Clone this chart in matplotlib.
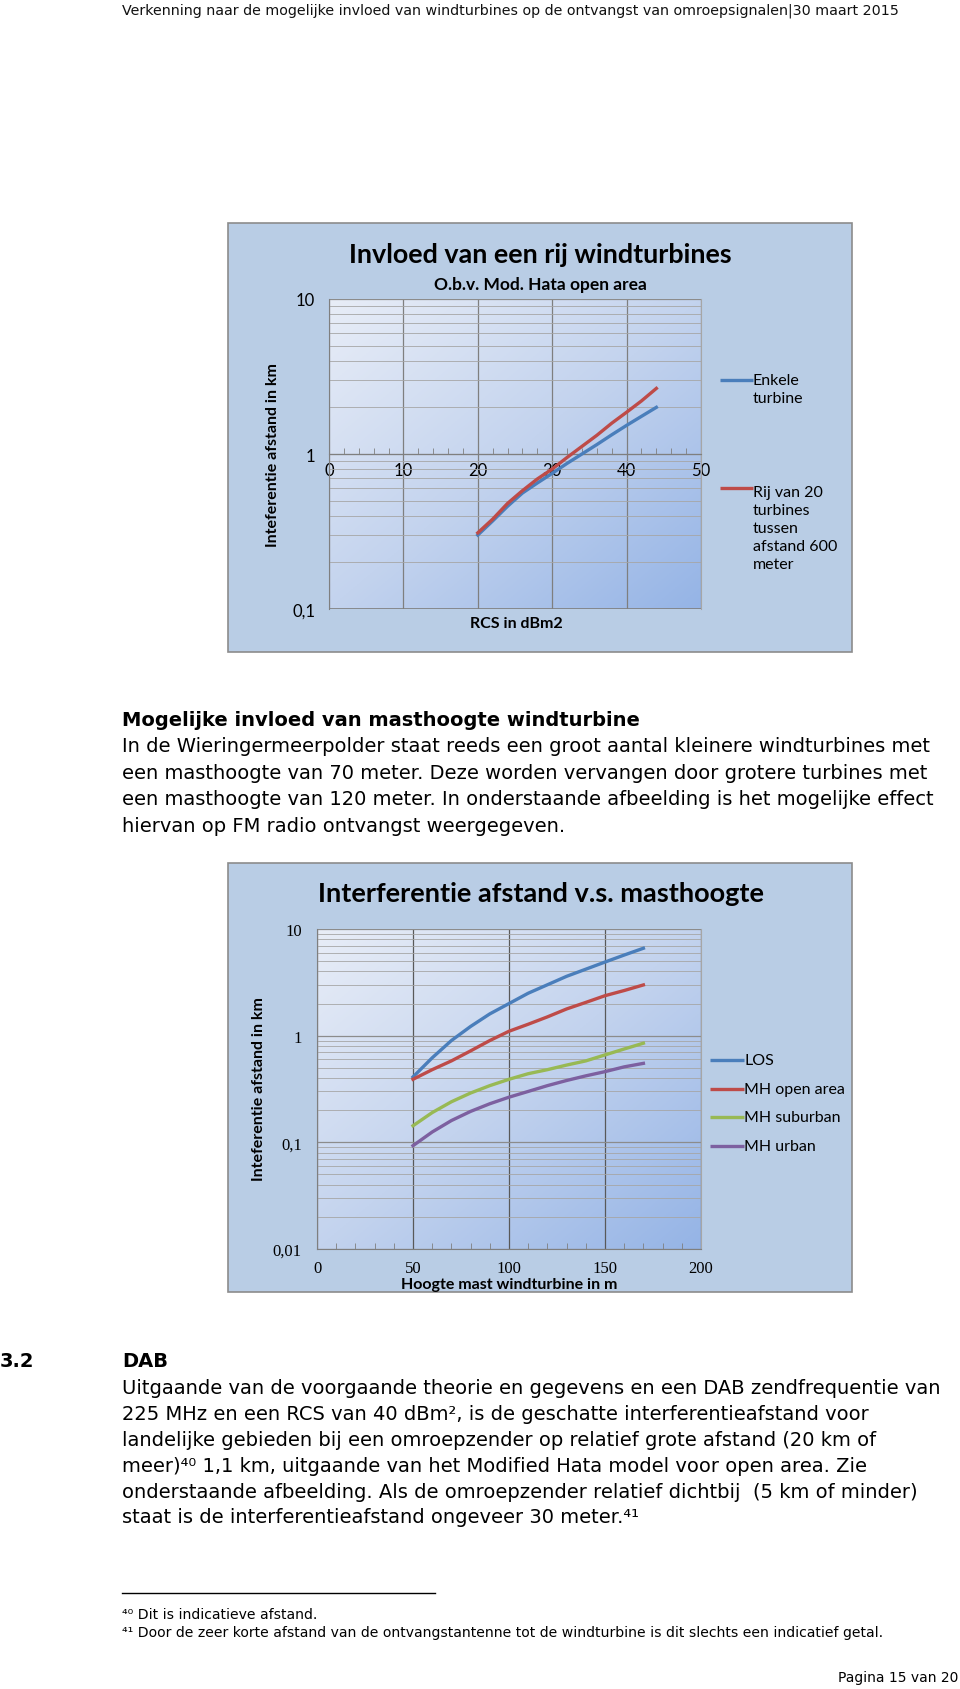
import numpy as np
import matplotlib
matplotlib.use("Agg")
import matplotlib.pyplot as plt
from matplotlib.lines import Line2D
from matplotlib.patches import Rectangle
from matplotlib.colors import LinearSegmentedColormap

## data chart 1: RCS vs interferentie afstand
rcs = [20, 22, 24, 26, 28, 30, 32, 34, 36, 38, 40, 42, 44]
enkele = [0.30, 0.37, 0.46, 0.56, 0.65, 0.75, 0.87, 1.00, 1.15, 1.33, 1.53, 1.75, 2.00]
rij20 = [0.31, 0.38, 0.48, 0.58, 0.69, 0.80, 0.95, 1.12, 1.32, 1.58, 1.86, 2.20, 2.65]

## data chart 2: masthoogte vs interferentie afstand
hoogte = [50, 60, 70, 80, 90, 100, 110, 120, 130, 140, 150, 160, 170]
los = [0.41, 0.62, 0.90, 1.22, 1.60, 2.00, 2.50, 3.00, 3.60, 4.20, 4.90, 5.70, 6.60]
mh_open = [0.39, 0.48, 0.58, 0.72, 0.90, 1.10, 1.28, 1.50, 1.78, 2.05, 2.37, 2.65, 2.99]
mh_suburban = [0.143, 0.19, 0.24, 0.29, 0.34, 0.39, 0.44, 0.48, 0.53, 0.58, 0.66, 0.75, 0.85]
mh_urban = [0.093, 0.125, 0.16, 0.195, 0.23, 0.265, 0.30, 0.34, 0.38, 0.42, 0.46, 0.51, 0.55]

W, H = 960, 1690
fig = plt.figure(figsize=(W / 100, H / 100), dpi=100)
fig.patch.set_facecolor("white")

def fx(x):
    return x / W

def fy(y):
    return 1 - y / H

def ftext(x, y, s, **kw):
    fig.text(fx(x), fy(y), s, **kw)

BLUE = "#4a7ebb"
RED = "#be4b48"
GREEN = "#98b954"
PURPLE = "#7d60a0"
BOXBG = "#b9cde5"
CHART = "Lato"
BODY = "DejaVu Sans"
FS_BODY = 14.0
grad = LinearSegmentedColormap.from_list("g", ["#e8edf7", "#c3d3ee", "#95b4e6"])

def chart_box(x0, y0, x1, y1):
    fig.add_artist(Rectangle((fx(x0), fy(y1)), fx(x1 - x0), (y1 - y0) / H,
                             transform=fig.transFigure, facecolor=BOXBG,
                             edgecolor="#8c8c8c", linewidth=1.2, zorder=0))

def make_axes(x0, y0, x1, y1):
    ax = fig.add_axes([fx(x0), fy(y1), fx(x1 - x0), (y1 - y0) / H])
    ax.set_facecolor("none")
    xx, yy = np.meshgrid(np.linspace(0, 1, 200), np.linspace(0, 1, 200))
    g = (xx + yy) / 2   # light top-left, blue bottom-right
    ax.imshow(g, cmap=grad, extent=[0, 1, 0, 1], transform=ax.transAxes,
              aspect="auto", origin="upper", zorder=0)
    return ax

def legend_line(x0, x1, y, color):
    fig.add_artist(Line2D([fx(x0), fx(x1)], [fy(y), fy(y)], transform=fig.transFigure,
                          color=color, linewidth=2.4, solid_capstyle="butt"))

## header
ftext(122, 11, "Verkenning naar de mogelijke invloed van windturbines op de ontvangst van omroepsignalen|30 maart 2015",
      fontsize=10.25, family=BODY, va="center", ha="left", color="#111111")

########## chart 1
chart_box(228, 224, 852, 653)
ax1 = make_axes(329, 300, 701, 610)
ax1.set_yscale("log")
ax1.set_ylim(0.1, 10)
ax1.set_xlim(0, 50)
ax1.plot(rcs, enkele, color=BLUE, linewidth=2.4, zorder=3)
ax1.plot(rcs, rij20, color=RED, linewidth=2.4, zorder=3)
ax1.set_xticks([0, 10, 20, 30, 40, 50])
ax1.set_xticks(np.arange(0, 51, 2), minor=True)
ax1.set_yticks([0.1, 1, 10])
ax1.set_yticklabels(["0,1", "1", "10"])
ax1.yaxis.set_minor_formatter(matplotlib.ticker.NullFormatter())
ax1.grid(True, which="major", axis="x", color="#7f7f7f", linewidth=0.9)
ax1.grid(True, which="major", axis="y", color="#8c8c8c", linewidth=0.9)
ax1.grid(True, which="minor", axis="y", color="#a6a6a6", linewidth=0.6)
ax1.spines["bottom"].set_position(("data", 1))
ax1.spines["bottom"].set_color("#7f7f7f")
ax1.spines["left"].set_color("#7f7f7f")
ax1.spines["top"].set_visible(False)
ax1.spines["right"].set_color("#a6a6a6")
ax1.axhline(0.1, color="#7f7f7f", linewidth=1.2)
ax1.tick_params(axis="x", which="both", direction="in", length=4, color="#7f7f7f",
                labelsize=12, pad=2)
ax1.tick_params(axis="x", which="major", length=0, pad=6)
ax1.tick_params(axis="y", which="both", length=0, labelsize=12, pad=10)
for lab in ax1.get_xticklabels() + ax1.get_yticklabels():
    lab.set_family(CHART)
ftext(540, 255, "Invloed van een rij windturbines", fontsize=19.4, fontweight="bold",
      family=CHART, ha="center", va="center")
ftext(540, 285, "O.b.v. Mod. Hata open area", fontsize=12.5, fontweight="bold",
      family=CHART, ha="center", va="center")
ftext(516, 624, "RCS in dBm2", fontsize=11.5, fontweight="bold", family=CHART,
      ha="center", va="center")
ftext(273, 455, "Inteferentie afstand in km", fontsize=11.5, fontweight="bold",
      family=CHART, ha="center", va="center", rotation=90)
legend_line(720, 753, 381, BLUE)
ftext(753, 390, "Enkele\nturbine", fontsize=11.5, family=CHART, ha="left", va="center",
      linespacing=1.35)
legend_line(720, 753, 489, RED)
ftext(753, 529, "Rij van 20\nturbines\ntussen\nafstand 600\nmeter", fontsize=11.5,
      family=CHART, ha="left", va="center", linespacing=1.35)

########## text block
ftext(122, 721, "Mogelijke invloed van masthoogte windturbine", fontsize=FS_BODY,
      fontweight="bold", family=BODY, ha="left", va="center")
para1 = [
    "In de Wieringermeerpolder staat reeds een groot aantal kleinere windturbines met",
    "een masthoogte van 70 meter. Deze worden vervangen door grotere turbines met",
    "een masthoogte van 120 meter. In onderstaande afbeelding is het mogelijke effect",
    "hiervan op FM radio ontvangst weergegeven.",
]
for i, line in enumerate(para1):
    ftext(122, 747 + i * 26.5, line, fontsize=FS_BODY, family=BODY, ha="left", va="center")

########## chart 2
chart_box(228, 864, 852, 1293)
ax2 = make_axes(317, 930, 701, 1250)
ax2.set_yscale("log")
ax2.set_ylim(0.01, 10)
ax2.set_xlim(0, 200)
ax2.plot(hoogte, los, color=BLUE, linewidth=2.4, zorder=3)
ax2.plot(hoogte, mh_open, color=RED, linewidth=2.4, zorder=3)
ax2.plot(hoogte, mh_suburban, color=GREEN, linewidth=2.4, zorder=3)
ax2.plot(hoogte, mh_urban, color=PURPLE, linewidth=2.4, zorder=3)
ax2.set_xticks([0, 50, 100, 150, 200])
ax2.set_xticks(np.arange(0, 201, 10), minor=True)
ax2.set_yticks([0.01, 0.1, 1, 10])
ax2.set_yticklabels(["0,01", "0,1", "1", "10"])
ax2.yaxis.set_minor_formatter(matplotlib.ticker.NullFormatter())
ax2.grid(True, which="major", axis="x", color="#595959", linewidth=0.9)
ax2.grid(True, which="major", axis="y", color="#8c8c8c", linewidth=0.9)
ax2.grid(True, which="minor", axis="y", color="#a6a6a6", linewidth=0.6)
ax2.spines["bottom"].set_color("#7f7f7f")
ax2.spines["left"].set_color("#7f7f7f")
ax2.spines["top"].set_visible(False)
ax2.spines["right"].set_color("#a6a6a6")
ax2.tick_params(axis="x", which="both", direction="in", length=4, color="#7f7f7f",
                labelsize=12, pad=8)
ax2.tick_params(axis="x", which="major", length=0)
ax2.tick_params(axis="y", which="both", length=0, labelsize=12, pad=11)
for lab in ax2.get_xticklabels() + ax2.get_yticklabels():
    lab.set_family("Liberation Serif")
ftext(541, 894, "Interferentie afstand v.s. masthoogte", fontsize=19.5, fontweight="bold",
      family=CHART, ha="center", va="center")
ftext(509, 1285, "Hoogte mast windturbine in m", fontsize=11.5, fontweight="bold",
      family=CHART, ha="center", va="center")
ftext(259, 1089, "Inteferentie afstand in km", fontsize=11.5, fontweight="bold",
      family=CHART, ha="center", va="center", rotation=90)
for yy, col, lab in [(1061, BLUE, "LOS"), (1090, RED, "MH open area"),
                     (1118, GREEN, "MH suburban"), (1147, PURPLE, "MH urban")]:
    legend_line(710, 744, yy, col)
    ftext(744, yy, lab, fontsize=11.5, family=CHART, ha="left", va="center")

########## DAB section
ftext(0, 1362, "3.2", fontsize=FS_BODY, fontweight="bold", family=BODY, ha="left", va="center")
ftext(122, 1362, "DAB", fontsize=FS_BODY, fontweight="bold", family=BODY, ha="left", va="center")
para2 = [
    "Uitgaande van de voorgaande theorie en gegevens en een DAB zendfrequentie van",
    "225 MHz en een RCS van 40 dBm\u00b2, is de geschatte interferentieafstand voor",
    "landelijke gebieden bij een omroepzender op relatief grote afstand (20 km of",
    "meer)\u2074\u2070 1,1 km, uitgaande van het Modified Hata model voor open area. Zie",
    "onderstaande afbeelding. Als de omroepzender relatief dichtbij  (5 km of minder)",
    "staat is de interferentieafstand ongeveer 30 meter.\u2074\u00b9",
]
for i, line in enumerate(para2):
    ftext(122, 1389 + i * 25.8, line, fontsize=FS_BODY, family=BODY, ha="left", va="center")

fig.add_artist(Line2D([fx(122), fx(435)], [fy(1594), fy(1594)], transform=fig.transFigure,
                      color="black", linewidth=1.0))
ftext(122, 1615, "\u2074\u2070 Dit is indicatieve afstand.", fontsize=10.1, family=BODY,
      ha="left", va="center")
ftext(122, 1633, "\u2074\u00b9 Door de zeer korte afstand van de ontvangstantenne tot de windturbine is dit slechts een indicatief getal.",
      fontsize=10.1, family=BODY, ha="left", va="center")
ftext(958, 1678, "Pagina 15 van 20", fontsize=10.0, family=BODY, ha="right", va="center")

fig.savefig("out.png", dpi=100)
